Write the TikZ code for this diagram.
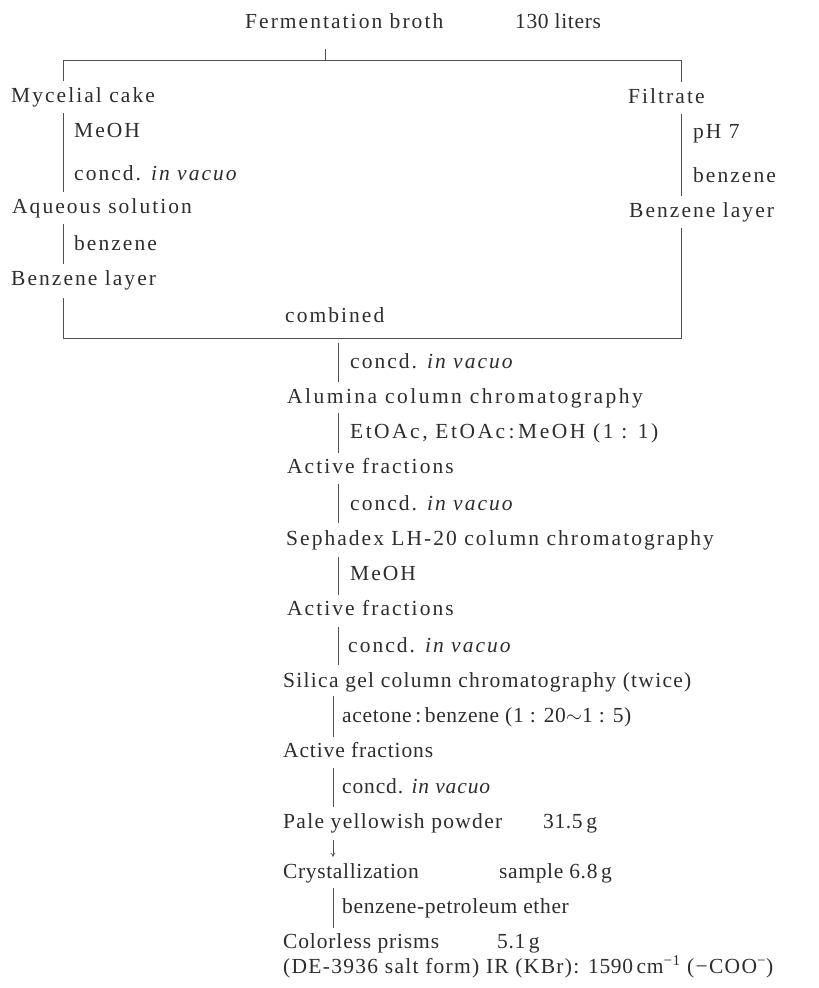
\documentclass[tikz,border=0pt]{standalone}
\usepackage{fontspec}
\setmainfont{Liberation Serif}[LetterSpace=9.5]
\newfontfamily\widef{Liberation Serif}[LetterSpace=11.5]
\newfontfamily\midf{Liberation Serif}[LetterSpace=6]
\newfontfamily\lowf{Liberation Serif}[LetterSpace=4]
\newfontfamily\narrowf{Liberation Serif}[LetterSpace=3]
\usetikzlibrary{arrows.meta}
\definecolor{ink}{RGB}{45,45,45}
\definecolor{rule}{RGB}{80,80,80}
\begin{document}
\begin{tikzpicture}[x=1pt,y=-1pt,
  lbl/.style={anchor=base west,inner sep=0pt,text=ink,font=\fontsize{21.5}{25}\selectfont,text height=15pt,text depth=5pt},
  wlbl/.style={lbl,font=\fontsize{21.5}{25}\selectfont\widef},
  mlbl/.style={lbl,font=\fontsize{21.5}{25}\selectfont\midf},
  llbl/.style={lbl,font=\fontsize{21.5}{25}\selectfont\lowf},
  nlbl/.style={lbl,font=\fontsize{21.5}{25}\selectfont\narrowf},
  conn/.style={draw=rule,line width=0.9pt}]
\useasboundingbox (0,0) rectangle (819,988);
% x positions of connector columns
\coordinate (L) at (63,0);
\coordinate (R) at (681,0);
\coordinate (M) at (338,0);
\coordinate (M2) at (333,0);
\coordinate (TBL) at (63,60);
\coordinate (TBR) at (681,60);
\coordinate (FT) at (325,49);
\coordinate (BBL) at (63,338);
\coordinate (BBR) at (681,338);
\coordinate (BBM) at (338,343);
% top
\node[lbl] (fb) at (245,28) {Fermentation broth};
\node[nlbl] (fl) at (515,28) {130 liters};
% left branch
\node[lbl] (mc) at (11,102) {Mycelial cake};
\node[lbl] (m1) at (74,137) {MeOH};
\node[lbl] (c1) at (74,180) {concd. \textit{in vacuo}};
\node[lbl] (aq) at (12,213) {Aqueous solution};
\node[lbl] (b1) at (74,250) {benzene};
\node[lbl] (bl1) at (11,285) {Benzene layer};
% right branch
\node[lbl] (fi) at (628,103) {Filtrate};
\node[lbl] (ph) at (693,138) {pH 7};
\node[lbl] (b2) at (693,182) {benzene};
\node[lbl] (bl2) at (629,217) {Benzene layer};
\node[lbl] (co) at (285,322) {combined};
% main column
\node[lbl] (c2) at (350,368) {concd. \textit{in vacuo}};
\node[wlbl] (al) at (287,403) {Alumina column chromatography};
\node[wlbl] (et) at (350,438) {EtOAc, EtOAc\,:\,MeOH (1 : 1)};
\node[lbl] (af1) at (287,473) {Active fractions};
\node[lbl] (c3) at (350,510) {concd. \textit{in vacuo}};
\node[lbl] (se) at (286,545) {Sephadex LH-20 column chromatography};
\node[lbl] (m2) at (350,580) {MeOH};
\node[lbl] (af2) at (287,615) {Active fractions};
\node[lbl] (c4) at (348,652) {concd. \textit{in vacuo}};
\node[mlbl] (si) at (283,687) {Silica gel column chromatography (twice)};
\node[nlbl] (ac) at (342,722) {acetone\,:\,benzene (1 : 20$\sim$1 : 5)};
\node[llbl] (af3) at (283,757) {Active fractions};
\node[llbl] (c5) at (342,793) {concd. \textit{in vacuo}};
\node[mlbl] (pa) at (283,828) {Pale yellowish powder};
\node[nlbl] (pw) at (543,828) {31.5\,g};
\node[nlbl] (cr) at (283,878) {Crystallization};
\node[nlbl] (sa) at (499,878) {sample 6.8\,g};
\node[nlbl] (bp) at (342,913) {benzene-petroleum ether};
\node[llbl] (cp) at (283,948) {Colorless prisms};
\node[nlbl] (cw) at (497,948) {5.1\,g};
\node[mlbl] (ir) at (283,973) {(DE-3936 salt form) IR (KBr): {\narrowf 1590\,cm\textsuperscript{\char"2212 1}} ({\char"2212}COO\textsuperscript{\char"2212})};
% connectors: top split
\draw[conn] (FT) -- (FT |- TBL);
\draw[conn] ([yshift=6pt]mc.north -| L) -- (TBL) -- (TBR) -- ([yshift=6pt]fi.north -| R);
% left branch
\draw[conn] ([yshift=-6pt]mc.south -| L) -- ([yshift=6pt]aq.north -| L);
\draw[conn] ([yshift=-6pt]aq.south -| L) -- ([yshift=6pt]bl1.north -| L);
\draw[conn] ([yshift=-8pt]bl1.south -| L) -- (BBL) -- (BBR) -- ([yshift=-6pt]bl2.south -| R);
% right branch
\draw[conn] ([yshift=-6pt]fi.south -| R) -- ([yshift=6pt]bl2.north -| R);
% main column
\draw[conn] (BBM) -- ([yshift=6pt]al.north -| M);
\draw[conn] ([yshift=-5pt]al.south -| M) -- ([yshift=5pt]af1.north -| M);
\draw[conn] ([yshift=-6pt]af1.south -| M) -- ([yshift=7pt]se.north -| M);
\draw[conn] ([yshift=-7pt]se.south -| M) -- ([yshift=5pt]af2.north -| M);
\draw[conn] ([yshift=-7pt]af2.south -| M) -- ([yshift=7pt]si.north -| M);
\draw[conn] ([yshift=-4pt]si.south -| M2) -- ([yshift=5pt]af3.north -| M2);
\draw[conn] ([yshift=-6pt]af3.south -| M2) -- ([yshift=6pt]pa.north -| M2);
\draw[conn,line width=0.7pt,-{To[length=4pt,width=5pt]}] ([yshift=-7pt]pa.south -| M2) -- ([yshift=6pt]cr.north -| M2);
\draw[conn] ([yshift=-5pt]cr.south -| M2) -- ([yshift=5pt]cp.north -| M2);
\end{tikzpicture}
\end{document}
